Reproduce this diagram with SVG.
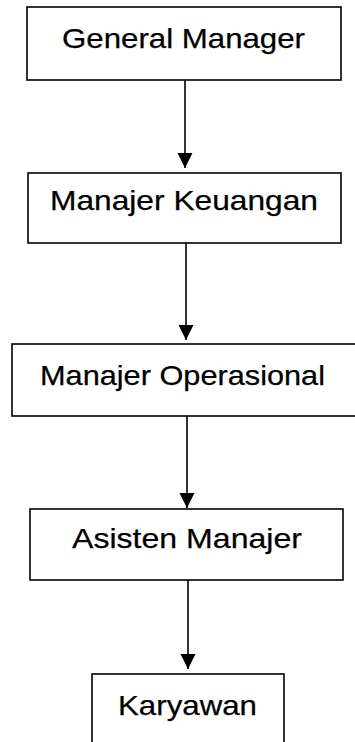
<svg xmlns="http://www.w3.org/2000/svg" width="355" height="742" viewBox="0 0 355 742">
  <style>
    .box { fill: #ffffff; stroke: #000000; stroke-width: 1.6; }
    .label { font-family: "Liberation Sans", Arial, sans-serif; font-size: 28px; fill: #000000; stroke: #000000; stroke-width: 0.25; text-anchor: middle; }
    .link { stroke: #000000; stroke-width: 1.6; fill: none; marker-end: url(#arrow); }
  </style>
  <defs>
    <marker id="arrow" markerUnits="userSpaceOnUse" markerWidth="16" markerHeight="16" refX="15" refY="7.5" orient="auto">
      <path d="M0,0 L15,7.5 L0,15 Z" fill="#000000"/>
    </marker>
  </defs>
  <rect width="355" height="742" fill="#ffffff"/>

  <g id="connectors">
    <line class="link" x1="185" y1="80" x2="185" y2="168"/>
    <line class="link" x1="186" y1="243" x2="186" y2="340"/>
    <line class="link" x1="187" y1="416" x2="187" y2="508"/>
    <line class="link" x1="188" y1="580" x2="188" y2="669"/>
  </g>

  <g id="general-manager">
    <rect class="box" x="27" y="7" width="314" height="73"/>
    <text class="label" x="183.5" y="48" textLength="243" lengthAdjust="spacingAndGlyphs">General Manager</text>
  </g>

  <g id="manajer-keuangan">
    <rect class="box" x="28" y="173" width="313" height="70"/>
    <text class="label" x="184" y="210" textLength="268" lengthAdjust="spacingAndGlyphs">Manajer Keuangan</text>
  </g>

  <g id="manajer-operasional">
    <rect class="box" x="12" y="344" width="350" height="72"/>
    <text class="label" x="182.5" y="385" textLength="285" lengthAdjust="spacingAndGlyphs">Manajer Operasional</text>
  </g>

  <g id="asisten-manajer">
    <rect class="box" x="30" y="509" width="313" height="71"/>
    <text class="label" x="187" y="548" textLength="230" lengthAdjust="spacingAndGlyphs">Asisten Manajer</text>
  </g>

  <g id="karyawan">
    <rect class="box" x="92" y="674" width="192" height="80"/>
    <text class="label" x="187.5" y="715" textLength="139" lengthAdjust="spacingAndGlyphs">Karyawan</text>
  </g>
</svg>
